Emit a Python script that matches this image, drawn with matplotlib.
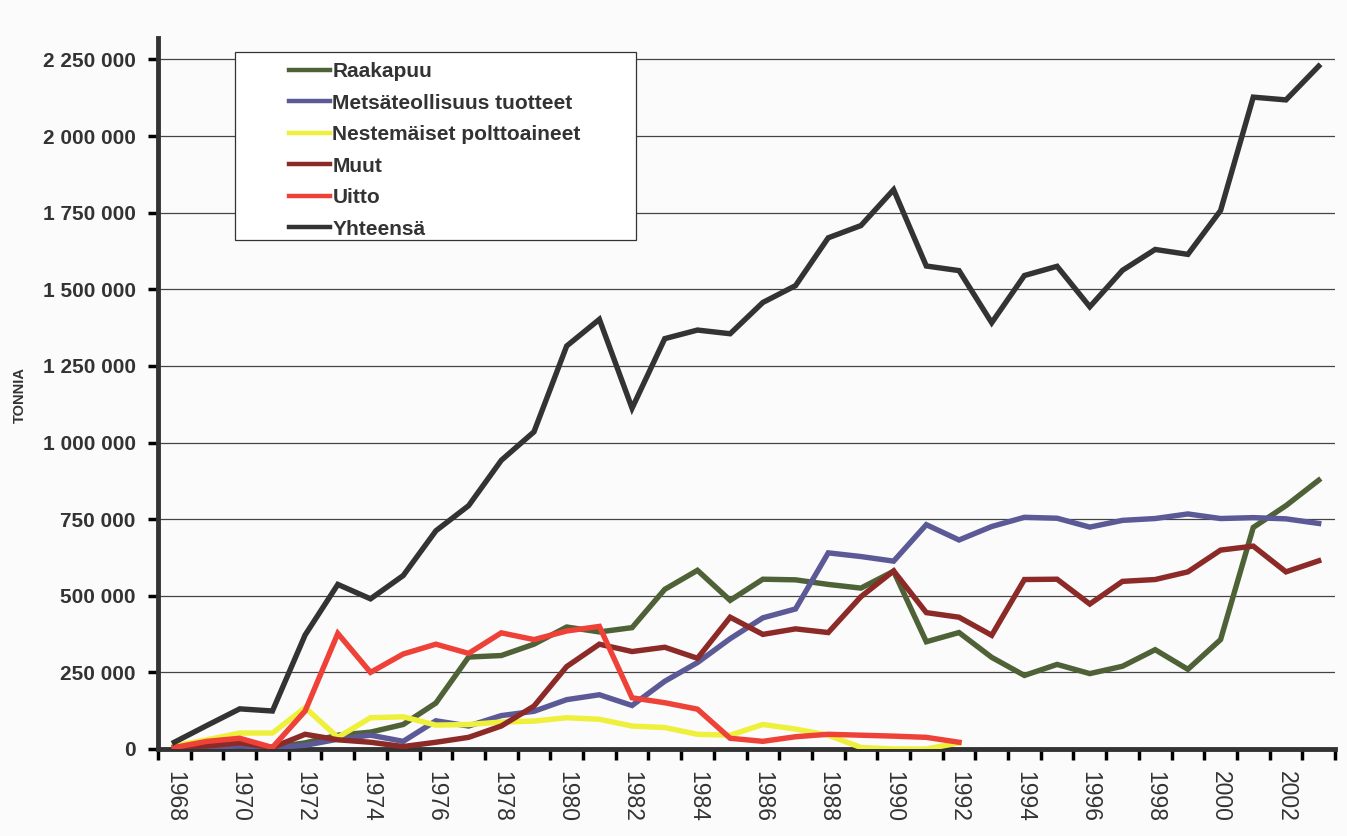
import numpy as np
import matplotlib
matplotlib.use('Agg')
import matplotlib.pyplot as plt
from matplotlib.ticker import FuncFormatter, FixedLocator
from matplotlib.patches import Rectangle

plt.rcParams['font.family'] = ['Liberation Sans', 'DejaVu Sans']

# data (tonnes), one value per year 1968-2003
years = list(range(1968, 2004))
raakapuu = [5, 10, 15, 5, 20, 45, 55, 80, 150, 300, 305, 342, 398, 382, 396, 521, 583, 485,
            554, 552, 537, 525, 580, 350, 380, 299, 240, 276, 246, 270, 324, 260, 357, 723, 794, 877]
metsateollisuus = [0, 5, 10, 5, 12, 32, 45, 25, 92, 75, 109, 123, 161, 177, 142, 221, 282, 360,
                   428, 457, 640, 628, 613, 732, 682, 726, 756, 753, 724, 746, 752, 767, 752, 755, 751, 736]
nestemaiset = [10, 30, 52, 52, 135, 38, 102, 105, 78, 80, 88, 91, 102, 97, 75, 70, 48, 45,
               80, 65, 45, 5, 0, 0, 20]
muut = [5, 10, 20, 5, 48, 30, 22, 8, 22, 38, 75, 140, 269, 342, 318, 332, 296, 430,
        374, 392, 380, 497, 581, 445, 430, 371, 553, 554, 473, 547, 553, 578, 649, 662, 578, 614]
uitto = [5, 25, 35, 5, 124, 377, 250, 310, 342, 312, 379, 357, 385, 400, 167, 151, 130, 35,
         25, 40, 48, 45, 42, 38, 22]
yhteensa = [22, 77, 131, 124, 372, 537, 490, 566, 712, 794, 942, 1035, 1315, 1402, 1112, 1339, 1367, 1355,
            1457, 1512, 1668, 1708, 1825, 1576, 1561, 1391, 1545, 1575, 1443, 1562, 1630, 1614, 1757, 2127, 2118, 2228]

series = [
    ('Raakapuu', raakapuu, '#4f6136'),
    ('Metsäteollisuus tuotteet', metsateollisuus, '#5c5a96'),
    ('Nestemäiset polttoaineet', nestemaiset, '#eef03c'),
    ('Muut', muut, '#8c2a28'),
    ('Uitto', uitto, '#ee4238'),
    ('Yhteensä', yhteensa, '#333333'),
]

fig = plt.figure(figsize=(13.47, 8.36), dpi=100)
fig.patch.set_facecolor('#fbfbfb')
ax = fig.add_axes([158/1347, 1-749/836, 1177/1347, 711/836])
ax.set_facecolor('#fbfbfb')

for name, vals, col in series:
    x = np.arange(len(vals))
    y = np.array(vals, dtype=float)*1000
    ax.plot(x, y, color=col, lw=3.9, label=name, solid_joinstyle='miter', zorder=3)

ax.set_xlim(-0.5, len(years)-0.5)
ax.set_ylim(0, 2320000)

# y axis
yt = np.arange(0, 2250001, 250000)
ax.set_yticks(yt)
ax.yaxis.set_major_formatter(FuncFormatter(lambda v, p: '{:,.0f}'.format(v).replace(',', ' ')))
ax.tick_params(axis='y', length=7, width=2.5, pad=9, labelsize=15)
for lab in ax.get_yticklabels():
    lab.set_fontweight('bold')
    lab.set_color('#333333')
for v in yt[1:]:
    ax.axhline(v, color='#444444', lw=0.9, zorder=1)

# x axis: labels every second year, tick marks between categories
ax.xaxis.set_major_locator(FixedLocator(np.arange(0, len(years), 2)))
ax.set_xticklabels([str(yr) for yr in years[::2]], rotation=270, fontsize=16.5,
                   color='#333333')
ax.xaxis.set_minor_locator(FixedLocator(np.arange(-0.5, len(years), 1)))
ax.tick_params(axis='x', which='major', length=0, pad=16)
ax.tick_params(axis='x', which='minor', length=8, width=2.5)

for s in ['top', 'right']:
    ax.spines[s].set_visible(False)
for s in ['left', 'bottom']:
    ax.spines[s].set_linewidth(3.5)
    ax.spines[s].set_color('#333333')

fig.text(20/1347, 1-395/836, 'TONNIA', rotation=90, ha='center', va='center',
         fontsize=10.5, fontweight='bold', color='#333333', fontstretch='condensed')

# legend box
ax.add_patch(Rectangle((0.0654, 0.716), 0.3406, 0.264, transform=ax.transAxes,
                       facecolor='white', edgecolor='#333333', lw=0.9, zorder=5))
leg = ax.legend(loc='upper left', bbox_to_anchor=(0.111, 0.966), frameon=False,
                borderpad=0, borderaxespad=0, handlelength=2.0, handletextpad=0.1,
                labelspacing=0.6, prop={'weight': 'bold', 'size': 15})
leg.set_zorder(6)
for t in leg.get_texts():
    t.set_color('#333333')
for h in leg.get_lines():
    h.set_linewidth(3.2)

fig.savefig('out.png', dpi=100, facecolor=fig.get_facecolor())
